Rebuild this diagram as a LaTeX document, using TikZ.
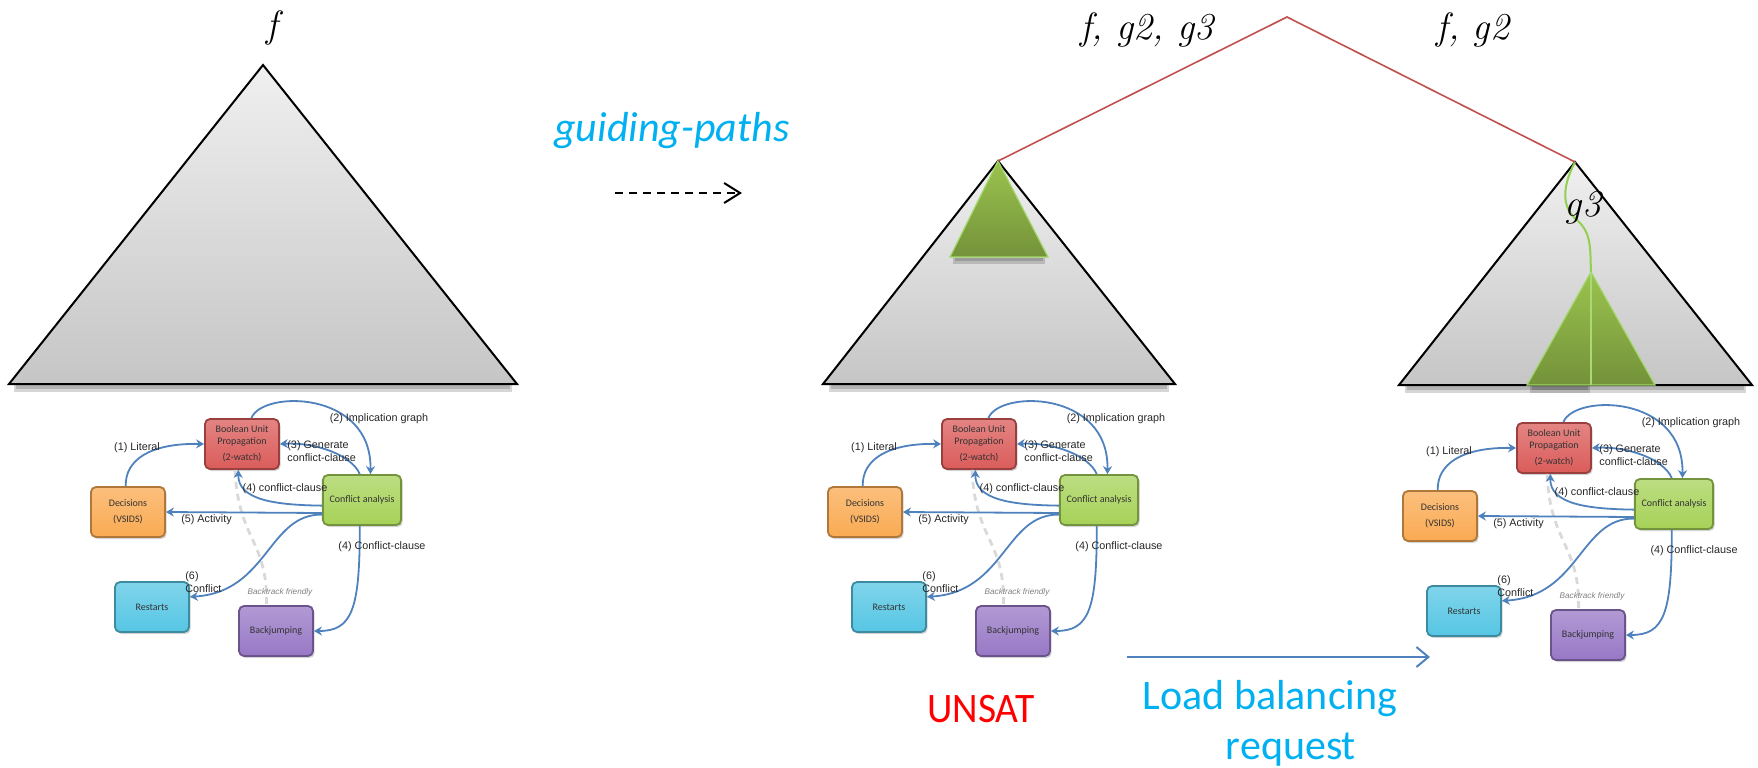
\documentclass[tikz,border=0pt]{standalone}
\usepackage{fontspec}
\newfontfamily\slidefont{Carlito}
\newfontfamily\cdclfont{Liberation Sans}
\usetikzlibrary{arrows.meta,shadows}

\definecolor{bupred}{RGB}{218,92,90}
\definecolor{decorange}{RGB}{250,170,82}
\definecolor{cagreen}{RGB}{166,210,88}
\definecolor{rstcyan}{RGB}{86,198,228}
\definecolor{bjpurple}{RGB}{152,120,198}
\definecolor{flowblue}{RGB}{79,129,189}
\definecolor{pathcyan}{RGB}{0,176,240}
\definecolor{splitred}{RGB}{192,80,77}
\definecolor{leafgreen}{RGB}{155,195,78}
\definecolor{leafdark}{RGB}{116,146,58}
\definecolor{leafline}{RGB}{146,208,80}

\begin{document}
\begin{tikzpicture}[x=0.5pt, y=-0.5pt,
    tree/.style={draw=black, line width=1pt, top color=gray!12, bottom color=gray!45},
    treeshadow/.style={fill=black, draw=none, opacity=0.16},
    subtree/.style={draw=leafline!85!white, line width=0.6pt, top color=leafgreen, bottom color=leafdark},
    split/.style={draw=splitred, line width=0.8pt},
    formula/.style={font=\fontsize{19}{22}\selectfont\itshape, inner sep=0pt},
    cdclbox/.style={rectangle, rounded corners=2.5pt, minimum width=37pt, minimum height=25pt,
        line width=0.9pt, draw=#1!70!black, top color=#1!75!white, bottom color=#1,
        align=center, text=black!80, font=\slidefont\fontsize{5}{6}\selectfont,
        drop shadow={opacity=0.35, shadow xshift=0.8pt, shadow yshift=-1pt}},
    flow/.style={draw=flowblue, line width=0.9pt, -{Stealth[length=4pt, width=4.5pt]}},
    flowlabel/.style={font=\cdclfont\fontsize{5.4}{6.4}\selectfont, text=black!85, inner sep=0pt},
    backtrack/.style={draw=gray!30, line width=1.4pt, dash pattern=on 3.5pt off 2.5pt},
    slidetext/.style={font=\slidefont\fontsize{21}{25}\selectfont, inner sep=0pt}
]
\useasboundingbox (0,0) rectangle (1758,767);

% search space of f
\coordinate (root) at (263,65);
\fill[treeshadow] (14,384) rectangle (512,392);
\fill[treeshadow] (16,384) rectangle (510,389);
\shade[tree] (root) -- (9,384) -- (517,384) -- cycle;
\node[formula] (f) at (272,28) {f};

% guiding-paths split
\node[slidetext, text=pathcyan] (guide) at (672,131) {\itshape guiding-paths};
\coordinate (gpfrom) at (615,193);
\coordinate (gpto) at (742,193);
\draw[line width=1pt, dash pattern=on 4pt off 3pt, -{Straight Barb[length=8pt, width=10pt]}] (gpfrom) -- (gpto);

\coordinate (split) at (1287,17);
\coordinate (left) at (998,161);
\coordinate (right) at (1575,162);
\coordinate (leaf) at (1591,272);
\fill[treeshadow] (829,385) rectangle (1169,392);
\fill[treeshadow] (831,385) rectangle (1167,389);
\shade[tree] (left) -- (823,384) -- (1175,384) -- cycle;
\fill[treeshadow] (1405,386) rectangle (1746,393);
\fill[treeshadow] (1407,386) rectangle (1744,390);
\shade[tree] (right) -- (1399,385) -- (1752,385) -- cycle;

% explored parts
\fill[treeshadow] (953,258) rectangle (1045,264);
\fill[treeshadow] (955,258) rectangle (1043,261);
\shade[subtree] (left) -- (950,257) -- (1048,257) -- cycle;
\fill[treeshadow] (1530,386) rectangle (1590,393);
\fill[treeshadow] (1532,386) rectangle (1588,390);
\shade[subtree] (leaf) -- (1527,385) -- (1655,385) -- cycle;
\draw[leafline!80!white, line width=0.6pt] (leaf) -- (1591,385);
\draw[leafline, line width=1pt] (right) .. controls (1563,185) and (1560,207) .. (1578,221)
    .. controls (1592,234) and (1590,250) .. (leaf);

\draw[split] (left) -- (split) -- (right);
\node[formula] (fgg) at (1147,30) {f, g2, g3};
\node[formula] (fg) at (1473,30) {f, g2};
\node[formula] (g3) at (1583,208) {g3};

% one CDCL solver under every tree
\foreach \dx/\dy/\sfx in {0/0/l, 737/0/m, 1312/4/r}{
\begin{scope}[shift={(\dx,\dy)}]
  \node[cdclbox=bupred] (bup-\sfx) at (242,444) {Boolean Unit\\Propagation\\[2pt](2-watch)};
  \node[cdclbox=decorange] (dec-\sfx) at (128,512) {Decisions\\[2pt](VSIDS)};
  \node[cdclbox=cagreen] (ca-\sfx) at (362,500) {Conflict analysis};
  \node[cdclbox=rstcyan] (rst-\sfx) at (152,607) {Restarts};
  \node[cdclbox=bjpurple] (bj-\sfx) at (276,631) {Backjumping};

  \draw[backtrack] (bup-\sfx.255) .. controls (238,540) and (268,540) .. (bj-\sfx.110);
  \node[flowlabel, font=\cdclfont\itshape\fontsize{4.1}{5}\selectfont, text=gray] (bf-\sfx) at (280,592) {Backtrack friendly};

  \draw[flow] (dec-\sfx.95) .. controls (125,460) and (150,443) .. (bup-\sfx.west);
  \node[flowlabel] (l1-\sfx) at (137,448) {(1) Literal};
  \draw[flow] (bup-\sfx.70) .. controls (262,390) and (372,390) .. (ca-\sfx.72);
  \node[flowlabel] (l2-\sfx) at (379,419) {(2) Implication graph};
  \draw[flow] (ca-\sfx.95) .. controls (352,455) and (315,442) .. (bup-\sfx.east);
  \node[flowlabel, anchor=west, align=left] (l3-\sfx) at (287,451) {(3) Generate\\conflict-clause};
  \draw[flow] (ca-\sfx.188) .. controls (275,505) and (238,500) .. (bup-\sfx.262);
  \node[flowlabel] (l4-\sfx) at (285,489) {(4) conflict-clause};
  \draw[flow] (ca-\sfx.198) -- node[flowlabel, pos=0.74, below=1pt] (l5-\sfx) {(5) Activity} (dec-\sfx.east);
  \draw[flow] (ca-\sfx.200) .. controls (268,514) and (268,592) .. (rst-\sfx.15);
  \node[flowlabel, anchor=west, align=left] (l6-\sfx) at (185,582) {(6)\\Conflict};
  \draw[flow] (ca-\sfx.265) .. controls (360,610) and (352,631) .. (bj-\sfx.east);
  \node[flowlabel] (l7-\sfx) at (382,547) {(4) Conflict-clause};
\end{scope}
}

% outcome of the left subtree and the work request
\node[slidetext, text=red] (unsat) at (981,709) {\scalebox{0.94}[1]{UNSAT}};
\coordinate (lbfrom) at (1127,657);
\coordinate (lbto) at (1430,657);
\draw[flowblue, line width=1pt, -{Straight Barb[length=6pt, width=10pt]}] (lbfrom) -- (lbto);
\node[slidetext, text=pathcyan, align=center] (lb) at (1270,723)
    {Load balancing\\\hspace*{1em}request};
\end{tikzpicture}
\end{document}
